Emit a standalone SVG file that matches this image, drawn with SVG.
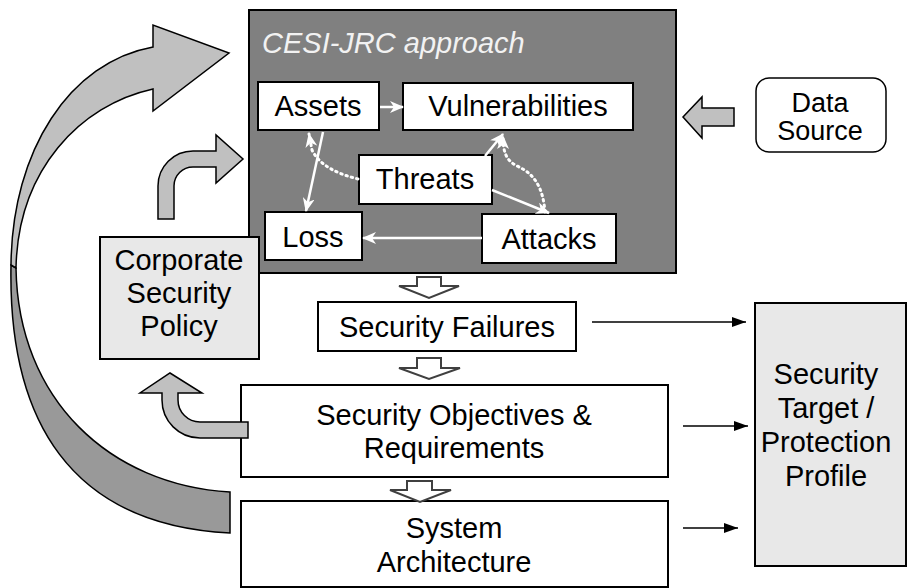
<svg xmlns="http://www.w3.org/2000/svg" width="909" height="588" viewBox="0 0 909 588">
  <defs>
    <style>
      text { font-family: "Liberation Sans", Arial, sans-serif; font-size: 29px; fill: #000; text-anchor: middle; }
      .box { fill: #fff; stroke: #000; stroke-width: 2; }
      .pale { fill: #e8e8e8; stroke: #000; stroke-width: 2; }
      .block { fill: #c0c0c0; stroke: #000; stroke-width: 1.5; stroke-linejoin: miter; }
      .block-dark { fill: #999; stroke: #000; stroke-width: 1.5; }
      .hollow { fill: #fff; stroke: #404040; stroke-width: 2; stroke-linejoin: miter; }
      .wline { fill: none; stroke: #fff; stroke-width: 2.5; marker-end: url(#wh); }
      .wdot { fill: none; stroke: #fff; stroke-width: 3; stroke-dasharray: 1.5 4; stroke-linecap: round; marker-end: url(#wh); }
      .kline { fill: none; stroke: #000; stroke-width: 1.5; marker-end: url(#kh); }
    </style>
    <marker id="wh" viewBox="0 0 14 12" refX="13" refY="6" markerWidth="14" markerHeight="12" markerUnits="userSpaceOnUse" orient="auto">
      <path d="M0,0 L14,6 L0,12 L4,6 z" fill="#fff"/>
    </marker>
    <marker id="kh" viewBox="0 0 14 10" refX="14" refY="5" markerWidth="14" markerHeight="10" markerUnits="userSpaceOnUse" orient="auto">
      <path d="M0,0 L14,5 L0,10 z" fill="#000"/>
    </marker>
  </defs>

  <rect width="909" height="588" fill="#fff"/>

  <!-- large feedback arrow sweeping from the bottom round to the approach box -->
  <g id="feedback-arrow">
    <path class="block-dark" d="M11,265 C8,420 70,525 230,533 L230,492 C110,485 18,400 16,268 Z"/>
    <path class="block" d="M11,265 C12,150 70,62 153,47 L153,25 L229,53 L153,111 L153,89 C80,105 18,170 16,268 Z"/>
  </g>

  <!-- policy feeds the approach -->
  <g id="policy-arrow">
    <path class="block" d="M158,219 L158,186 A35,35 0 0 1 193,151 L216,151 L216,135 L243,159 L216,183 L216,167 L193,167 A19,19 0 0 0 174,186 L174,219 Z"/>
  </g>

  <!-- CESI-JRC approach container -->
  <g id="approach">
    <rect x="249" y="10" width="427" height="263" fill="#808080" stroke="#000" stroke-width="2"/>
    <text x="262" y="53" style="font-style: italic; fill: #f2f2f2; text-anchor: start;">CESI-JRC approach</text>
  </g>

  <g id="assets">
    <rect class="box" x="258" y="82" width="121" height="48"/>
    <text x="318" y="116">Assets</text>
  </g>
  <g id="vulnerabilities">
    <rect class="box" x="403" y="83" width="230" height="47"/>
    <text x="518" y="116">Vulnerabilities</text>
  </g>
  <g id="threats">
    <rect class="box" x="359" y="155" width="133" height="49"/>
    <text x="425" y="189">Threats</text>
  </g>
  <g id="loss">
    <rect class="box" x="265" y="212" width="97" height="48"/>
    <text x="313" y="247">Loss</text>
  </g>
  <g id="attacks">
    <rect class="box" x="482" y="214" width="134" height="49"/>
    <text x="549" y="249">Attacks</text>
  </g>

  <!-- relations inside the approach -->
  <g id="relations">
    <line class="wline" x1="380" y1="107" x2="403" y2="107"/>
    <line class="wline" x1="323" y1="132" x2="306" y2="211"/>
    <path class="wdot" d="M358,179 C338,174 320,166 312,150 L309,134"/>
    <line class="wline" x1="485" y1="156" x2="503" y2="134"/>
    <path class="wdot" d="M545,212 C543,188 535,174 517,166 C505,160 503,150 503,136"/>
    <line class="wline" x1="492" y1="190" x2="549" y2="213"/>
    <line class="wline" x1="482" y1="238" x2="363" y2="238"/>
  </g>

  <g id="corporate-policy">
    <rect class="pale" x="100" y="237" width="159" height="122"/>
    <text x="179" y="270">Corporate</text>
    <text x="179" y="303">Security</text>
    <text x="179" y="336">Policy</text>
  </g>

  <g id="data-source">
    <rect x="756" y="78" width="130" height="74" rx="13" fill="#fff" stroke="#000" stroke-width="1.5"/>
    <text x="820" y="112" style="font-size: 27px;">Data</text>
    <text x="820" y="140" style="font-size: 27px;">Source</text>
  </g>
  <g id="data-arrow">
    <path class="block" d="M734,108 L702,108 L702,97 L683,117 L702,138 L702,126 L734,126 Z"/>
  </g>

  <g id="security-failures">
    <rect class="box" x="318" y="302" width="258" height="49"/>
    <text x="447" y="337">Security Failures</text>
  </g>
  <g id="security-objectives">
    <rect class="box" x="241" y="385" width="427" height="92"/>
    <text x="454" y="425">Security Objectives &amp;</text>
    <text x="454" y="458">Requirements</text>
  </g>
  <g id="system-architecture">
    <rect class="box" x="241" y="501" width="427" height="86"/>
    <text x="454" y="538">System</text>
    <text x="454" y="572">Architecture</text>
  </g>
  <g id="security-target">
    <rect class="pale" x="755" y="303" width="151" height="263"/>
    <text x="826" y="384">Security</text>
    <text x="826" y="418">Target /</text>
    <text x="826" y="452">Protection</text>
    <text x="826" y="486">Profile</text>
  </g>

  <!-- objectives feed back into policy -->
  <g id="objectives-arrow">
    <path class="block" d="M248,422 L200,422 A22,22 0 0 1 178,400 L178,393 L202,393 L170,373 L140,393 L162,393 L162,400 A38,38 0 0 0 200,438 L248,438 Z"/>
  </g>

  <!-- flow between stages and to the target -->
  <g id="connectors">
    <path class="hollow" d="M417,277 L441,277 L441,286 L459,286 L429,298 L399,286 L417,286 Z"/>
    <path class="hollow" d="M417,358 L441,358 L441,368 L460,368 L429,379 L399,368 L417,368 Z"/>
    <path class="hollow" d="M407,481 L432,481 L432,490 L451,490 L420,502 L390,490 L407,490 Z"/>
    <line class="kline" x1="592" y1="322" x2="746" y2="322"/>
    <line class="kline" x1="683" y1="426" x2="748" y2="426"/>
    <line class="kline" x1="683" y1="528" x2="738" y2="528"/>
  </g>
</svg>
